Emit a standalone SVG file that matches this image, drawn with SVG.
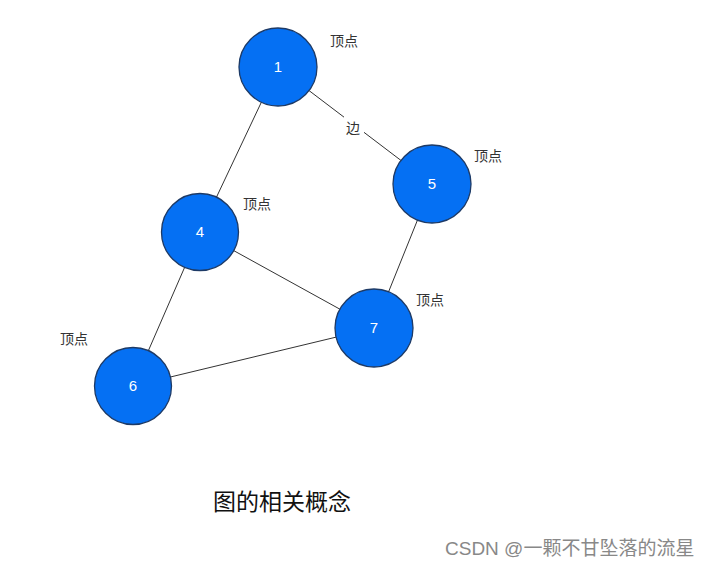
<svg xmlns="http://www.w3.org/2000/svg" width="712" height="565" viewBox="0 0 712 565">
<style>
.node{fill:#0570f3;stroke:#1d3a66;stroke-width:1.3}
.num{fill:#ffffff;font-family:"Liberation Sans",Arial,sans-serif;font-size:15px;text-anchor:middle}
.lbl{fill:#333333;font-family:"Noto Sans CJK SC",sans-serif;font-size:14px}
.edge{stroke:#333333;stroke-width:1;fill:none}
</style>
<rect width="712" height="565" fill="#ffffff"/>
<g id="connectors">
<line class="edge" x1="278" y1="67" x2="200" y2="232"/>
<line class="edge" x1="278" y1="67" x2="432" y2="184"/>
<line class="edge" x1="200" y1="232" x2="374" y2="328"/>
<line class="edge" x1="432" y1="184" x2="374" y2="328"/>
<line class="edge" x1="200" y1="232" x2="133" y2="386"/>
<line class="edge" x1="133" y1="386" x2="374" y2="328"/>
<rect x="344" y="117" width="20" height="19" fill="#ffffff"/>
<text class="lbl" x="346" y="133">边</text>
</g>
<g id="node1"><circle class="node" cx="278" cy="67" r="39"/><text class="num" x="278" y="72">1</text><text class="lbl" x="330" y="46">顶点</text></g>
<g id="node5"><circle class="node" cx="432" cy="184" r="39"/><text class="num" x="432" y="189">5</text><text class="lbl" x="474" y="161">顶点</text></g>
<g id="node4"><circle class="node" cx="200" cy="232" r="38.5"/><text class="num" x="200" y="237">4</text><text class="lbl" x="243" y="209">顶点</text></g>
<g id="node7"><circle class="node" cx="374" cy="328" r="39"/><text class="num" x="374" y="333">7</text><text class="lbl" x="416" y="305">顶点</text></g>
<g id="node6"><circle class="node" cx="133" cy="386" r="38.5"/><text class="num" x="133" y="391">6</text><text class="lbl" x="60" y="344">顶点</text></g>
<text x="213" y="510" font-family="Noto Sans CJK SC,sans-serif" font-size="23" fill="#111111">图的相关概念</text>
<text x="445" y="555" font-family="Liberation Sans,Noto Sans CJK SC,sans-serif" font-size="19" fill="#888888">CSDN @一颗不甘坠落的流星</text>
</svg>
